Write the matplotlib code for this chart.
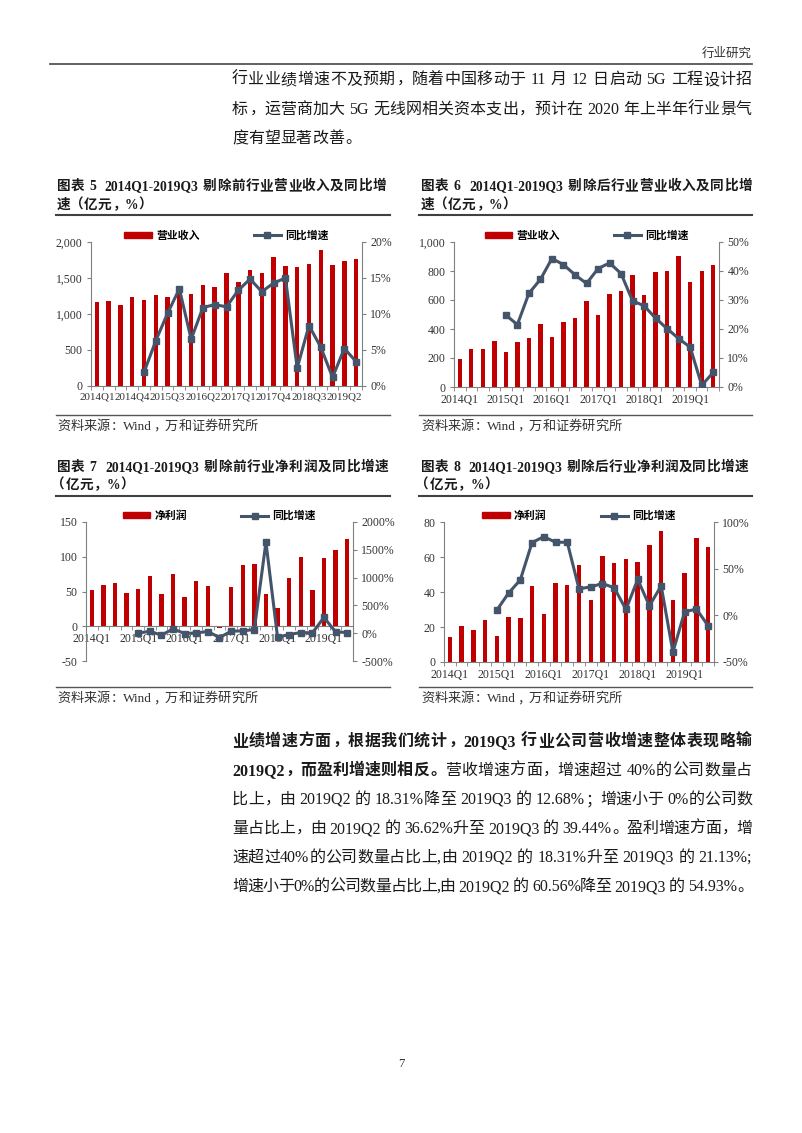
import re
import numpy as np
import matplotlib
matplotlib.use('Agg')
import matplotlib.pyplot as plt
from matplotlib.lines import Line2D
from matplotlib.patches import Patch
from matplotlib.ticker import FuncFormatter

nan = np.nan

quarters = ['2014Q1', '2014Q2', '2014Q3', '2014Q4', '2015Q1', '2015Q2', '2015Q3', '2015Q4',
            '2016Q1', '2016Q2', '2016Q3', '2016Q4', '2017Q1', '2017Q2', '2017Q3', '2017Q4',
            '2018Q1', '2018Q2', '2018Q3', '2018Q4', '2019Q1', '2019Q2', '2019Q3']

# 图表5 剔除前营业收入(亿元) / 同比(%)
rev_before = [1170, 1185, 1128, 1239, 1192, 1267, 1239, 1380, 1271, 1406, 1378, 1564,
              1443, 1615, 1568, 1786, 1661, 1652, 1698, 1888, 1680, 1740, 1758]
rev_before_yoy = [nan, nan, nan, nan, 1.9, 6.3, 10.1, 13.5, 6.5, 10.9, 11.3, 11.0,
                  13.3, 14.85, 13.1, 14.3, 15.0, 2.5, 8.4, 5.4, 1.2, 5.2, 3.4]

# 图表6 剔除后营业收入
rev_after = [190, 261, 261, 318, 240, 313, 341, 435, 348, 446, 474, 595,
             494, 638, 661, 773, 634, 792, 799, 901, 725, 799, 840]
rev_after_yoy = [nan, nan, nan, nan, 24.8, 21.5, 32.3, 37.1, 44.3, 42.2, 38.7, 35.7,
                 40.8, 42.8, 39.1, 29.7, 28.0, 23.7, 20.1, 16.7, 13.7, 0.6, 5.0]

# 图表7 剔除前净利润
np_before = [52.6, 59.3, 62.7, 47.3, 54.0, 72.4, 46.8, 74.8, 42.0, 65.1, 57.4, -2.0,
             56.4, 87.8, 90.2, 46.3, 25.6, 69.5, 99.9, 52.6, 98.0, 109.0, 125.0]
np_before_yoy = [nan, nan, nan, nan, 0, 36, -36, 78, -6, 6, 30, -78,
                 36, 42, 66, 1637, -72, -24, 12, 6, 283, 24, 12]

# 图表8 剔除后净利润
np_after = [14.3, 20.7, 18.1, 24.1, 14.8, 25.5, 24.9, 43.2, 27.4, 45.4, 44.1, 55.3,
            35.5, 60.6, 56.8, 58.6, 57.0, 66.7, 74.9, 35.4, 50.9, 70.7, 65.8]
np_after_yoy = [nan, nan, nan, nan, 5.6, 23.8, 38.0, 77.9, 84.3, 78.3, 78.3, 28.4,
                30.5, 34.1, 29.5, 6.3, 38.4, 10.2, 31.6, -39.3, 3.8, 6.7, -11.1]

RED = '#C00000'
SLATE = '#44546A'
GRAY = '#808080'
TXT = '#1a1a1a'

W, H = 802, 1133
FONT = ['Liberation Serif', 'Noto Sans CJK SC']
plt.rcParams['font.family'] = FONT

fig = plt.figure(figsize=(W / 100, H / 100), dpi=100)
renderer = fig.canvas.get_renderer()


def pos(x, y):
    return x / W, 1 - y / H


def hline(x0, x1, y, lw=1.0, color='#404040'):
    fig.add_artist(Line2D([x0 / W, x1 / W], [1 - y / H, 1 - y / H], lw=lw, color=color))


def put_line(x0, y, segs, size, x1=None, color=TXT):
    # lay a line out token by token so it can be justified like the page
    em = size * 100 / 72
    toks = []
    for s, w in segs:
        for t in re.findall(r'[A-Za-z0-9.%,;:\-]+| +|.', s):
            toks.append((t, w))
    items = []
    for t, w in toks:
        if t.strip() == '':
            items.append((None, 0.27 * em * len(t), None))
        elif len(t) == 1 and ord(t) > 0x2E80:
            items.append((t, em, w))
        else:
            a = fig.text(0, 0, t, fontsize=size, fontweight=w, color=color, va='baseline')
            items.append((a, a.get_window_extent(renderer).width, w))
    gap = 0
    if x1 is not None and len(items) > 1:
        gap = (x1 - x0 - sum(i[1] for i in items)) / (len(items) - 1)
    x = x0
    for a, wd, w in items:
        if isinstance(a, str):
            if a in '，。；：、':
                fig.text(*pos(x + 0.08 * em, y), a, fontsize=size, fontweight=w, color=color,
                         va='baseline', ha='left')
            elif a == '（':
                fig.text(*pos(x + wd - 0.05 * em, y), a, fontsize=size, fontweight=w, color=color,
                         va='baseline', ha='right')
            else:
                fig.text(*pos(x + wd / 2, y), a, fontsize=size, fontweight=w, color=color,
                         va='baseline', ha='center')
        elif a is not None:
            a.set_position(pos(x, y))
        x += wd + gap


def draw_chart(box, bars, yoy, bar_name, ylim, ystep, y2lim, y2step, step, comma=False, xsize=8.5):
    l, r, t, b = box
    ax = fig.add_axes([l / W, 1 - b / H, (r - l) / W, (b - t) / H])
    x = np.arange(len(quarters))
    ax.bar(x, bars, width=0.38, color=RED, zorder=2)
    ax.set_xlim(-0.5, len(quarters) - 0.5)
    ax.set_ylim(*ylim)
    ax.set_yticks(np.arange(ylim[0], ylim[1] + ystep / 2, ystep))
    if comma:
        ax.yaxis.set_major_formatter(FuncFormatter(lambda v, p: f'{v:,.0f}'))
    else:
        ax.yaxis.set_major_formatter(FuncFormatter(lambda v, p: f'{v:.0f}'))
    ax.set_xticks(x[::step])
    ax.set_xticklabels(quarters[::step])
    ax.set_xticks(np.arange(-0.5, len(quarters), 1), minor=True)
    ax.tick_params(axis='x', which='major', length=0, pad=5, labelsize=xsize, labelcolor='#333333')
    ax.tick_params(axis='x', which='minor', length=3, color=GRAY, direction='out')
    ax.tick_params(axis='y', length=3, color=GRAY, labelsize=8.5, labelcolor='#333333', pad=3)
    for s in ['top', 'right']:
        ax.spines[s].set_visible(False)
    ax.spines['left'].set_color(GRAY)
    ax.spines['bottom'].set_color(GRAY)
    ax.spines['bottom'].set_position(('data', 0))

    ax2 = ax.twinx()
    ax2.plot(x, yoy, color=SLATE, lw=2.2, marker='s', ms=4.8, zorder=3)
    ax2.set_ylim(*y2lim)
    ax2.set_yticks(np.arange(y2lim[0], y2lim[1] + y2step / 2, y2step))
    ax2.yaxis.set_major_formatter(FuncFormatter(lambda v, p: f'{v:.0f}%'))
    ax2.tick_params(axis='y', length=3, color=GRAY, labelsize=8.5, labelcolor='#333333', pad=3)
    for s in ['top', 'left', 'bottom']:
        ax2.spines[s].set_visible(False)
    ax2.spines['right'].set_color(GRAY)

    handles = [Patch(color=RED), Line2D([], [], color=SLATE, lw=2.2, marker='s', ms=4.8)]
    ax2.legend(handles, [bar_name, '同比增速'], loc='center', bbox_to_anchor=(0.5, 1.045),
               ncol=2, frameon=False, prop={'size': 7.8, 'weight': 'bold', 'family': FONT},
               handlelength=2.5, handleheight=0.45, columnspacing=5.0, handletextpad=0.4,
               borderpad=0)
    return ax, ax2


# header
fig.text(*pos(752, 57), '行业研究', fontsize=9, color='#333333', ha='right', va='baseline')
hline(50, 752, 64, lw=1.3, color='#555555')

# paragraph 1
BODY = 11.5
put_line(232, 84, [('行业业绩增速不及预期，随着中国移动于 11 月 12 日启动 5G 工程设计招', 'normal')], BODY, 752)
put_line(232, 114, [('标，运营商加大 5G 无线网相关资本支出，预计在 2020 年上半年行业景气', 'normal')], BODY, 752)
put_line(232, 143, [('度有望显著改善。', 'normal')], BODY)

# chart titles
TS = 9.8
put_line(57, 190, [('图表 5  2014Q1-2019Q3 剔除前行业营业收入及同比增', 'bold')], TS, 386)
put_line(57, 209, [('速（亿元，%）', 'bold')], TS)
put_line(421, 190, [('图表 6  2014Q1-2019Q3 剔除后行业营业收入及同比增', 'bold')], TS, 752)
put_line(421, 209, [('速（亿元，%）', 'bold')], TS)
hline(56, 390, 215, lw=1.5)
hline(419, 752, 215, lw=1.5)

put_line(57, 471, [('图表 7  2014Q1-2019Q3 剔除前行业净利润及同比增速', 'bold')], TS, 388)
put_line(52, 489, [('（亿元，%）', 'bold')], TS)
put_line(421, 471, [('图表 8  2014Q1-2019Q3 剔除后行业净利润及同比增速', 'bold')], TS, 748)
put_line(416, 489, [('（亿元，%）', 'bold')], TS)
hline(56, 390, 496, lw=1.5)
hline(419, 752, 496, lw=1.5)

# charts
draw_chart((91, 362, 242, 386), rev_before, rev_before_yoy, '营业收入',
           (0, 2000), 500, (0, 20), 5, 3, comma=True, xsize=7.9)
draw_chart((454, 719, 242, 387), rev_after, rev_after_yoy, '营业收入',
           (0, 1000), 200, (0, 50), 10, 4, comma=True)
draw_chart((86, 353, 522, 661), np_before, np_before_yoy, '净利润',
           (-50, 150), 50, (-500, 2000), 500, 4)
draw_chart((444, 714, 522, 662), np_after, np_after_yoy, '净利润',
           (0, 80), 20, (-50, 100), 50, 4)

# sources
SS = 9.5
hline(56, 390, 415, lw=1.0, color='#555555')
hline(419, 752, 415, lw=1.0, color='#555555')
put_line(57, 430, [('资料来源：Wind，万和证券研究所', 'normal')], SS, color='#333333')
put_line(421, 430, [('资料来源：Wind，万和证券研究所', 'normal')], SS, color='#333333')
hline(56, 390, 687, lw=1.0, color='#555555')
hline(419, 752, 687, lw=1.0, color='#555555')
put_line(57, 702, [('资料来源：Wind，万和证券研究所', 'normal')], SS, color='#333333')
put_line(421, 702, [('资料来源：Wind，万和证券研究所', 'normal')], SS, color='#333333')

# paragraph 2
put_line(232, 746, [('业绩增速方面，根据我们统计，2019Q3 行业公司营收增速整体表现略输', 'bold')], BODY, 752)
put_line(232, 775, [('2019Q2，而盈利增速则相反。', 'bold'),
                    ('营收增速方面，增速超过 40%的公司数量占', 'normal')], BODY, 752)
put_line(232, 804, [('比上，由 2019Q2 的 18.31%降至 2019Q3 的 12.68%；增速小于 0%的公司数', 'normal')], BODY, 752)
put_line(232, 833, [('量占比上，由 2019Q2 的 36.62%升至 2019Q3 的 39.44%。盈利增速方面，增', 'normal')], BODY, 752)
put_line(232, 862, [('速超过40%的公司数量占比上,由 2019Q2 的 18.31%升至 2019Q3 的 21.13%;', 'normal')], BODY, 752)
put_line(232, 891, [('增速小于0%的公司数量占比上,由 2019Q2 的 60.56%降至 2019Q3 的 54.93%。', 'normal')], BODY, 752)

# page number
fig.text(*pos(401, 1067), '7', fontsize=9, color='#333333', ha='center', va='baseline')

fig.savefig('out.png', dpi=100)
